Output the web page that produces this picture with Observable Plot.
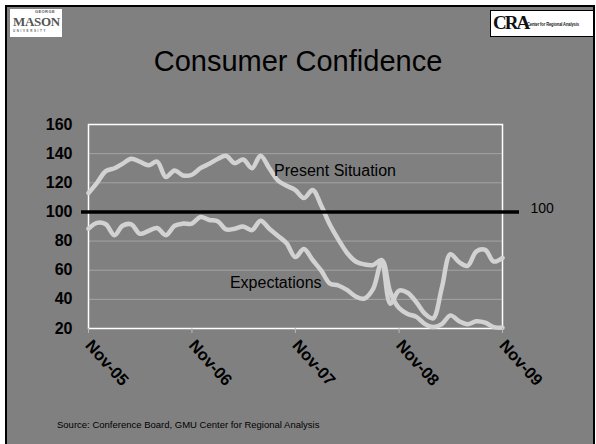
<!DOCTYPE html>
<html>
<head>
<meta charset="utf-8">
<script src="https://cdn.jsdelivr.net/npm/d3@7"></script>
<script src="https://cdn.jsdelivr.net/npm/@observablehq/plot@0.6"></script>
<style>
  html, body { margin: 0; padding: 0; background: #ffffff; }
  #slide { position: relative; width: 596px; height: 444px; overflow: hidden; background: #ffffff;
           font-family: "Liberation Sans", Arial, sans-serif; }
  #bg { position: absolute; left: 5px; top: 5px; width: 586px; height: 450px; background: #808080;
        border-left: 2.5px solid #000; border-top: 2.5px solid #000; border-right: 2.5px solid #000; }
  #title { position: absolute; left: 0; width: 596px; top: 45px; text-align: center; font-size: 29px; color: #000; }
  #source { position: absolute; left: 57px; top: 419px; font-size: 9.5px; color: #000; white-space: nowrap; }
  #gmu { position: absolute; left: 10px; top: 9px; width: 52px; height: 28px; background: #fff; }
  #gmu .g { position: absolute; left: 25px; top: 1px; font-size: 4px; line-height: 4px; font-weight: bold; color: #555; letter-spacing: 0.4px; }
  #gmu .m { position: absolute; left: 3px; top: 6px; font-family: "Liberation Serif", serif; font-size: 13px; line-height: 13px; font-weight: bold; color: #555; letter-spacing: -0.3px; }
  #gmu .u { position: absolute; left: 3px; top: 21px; font-size: 3px; line-height: 3px; font-weight: bold; color: #666; letter-spacing: 1.6px; }
  #cra { position: absolute; left: 490px; top: 10px; width: 104px; height: 27px; background: #fff; border: 1px solid #000; box-sizing: border-box; }
  #cra .c { position: absolute; left: 2px; top: 2px; font-family: "Liberation Serif", serif; font-size: 19px; line-height: 19px; font-weight: bold; color: #111; letter-spacing: -2px; }
  #cra .t { position: absolute; left: 36px; top: 10px; font-size: 6px; line-height: 6px; font-weight: bold; color: #222; white-space: nowrap;
            letter-spacing: -0.2px; transform: scaleX(0.68); transform-origin: left center; }
  #chart { position: absolute; left: 0; top: 0; }
</style>
</head>
<body>
<div id="slide">
  <div id="bg"></div>
  <div id="gmu"><span class="g">GEORGE</span><span class="m">MASON</span><span class="u">UNIVERSITY</span></div>
  <div id="cra"><span class="c">CRA</span><span class="t">Center for Regional Analysis</span></div>
  <div id="title">Consumer Confidence</div>
  <div id="chart"></div>
  <div id="source">Source: Conference Board, GMU Center for Regional Analysis</div>
</div>
<script>
// Monthly values, Nov-2005 .. Nov-2009 (49 months)
const presentSituation = [
  113, 120, 128, 130, 133, 136.5, 134.5, 132, 134.5, 124, 128.5, 125,
  125.5, 130, 133, 136.5, 138.5, 133.5, 136, 130, 138.5, 130, 121.5, 118,
  115, 109.5, 115, 104, 91.5, 81, 72, 66, 64, 63.5, 67, 45,
  34, 30, 28, 23, 21, 23, 29, 25, 23, 25, 24, 21,
  20.5
];
const expectations = [
  88.5, 92.5, 91.5, 84, 90.5, 91.5, 85, 87, 89, 84, 90.5, 92,
  92, 96.5, 94.5, 93.5, 88, 88.5, 90, 87.5, 94, 88.5, 83.5, 78.5,
  69, 74.5, 67, 59.5, 51, 49.5, 46.5, 42, 40.5, 47, 66, 37,
  46, 44.5, 38, 30, 27, 48, 71, 65.5, 63, 73, 74, 66,
  68.5
];
const seriesNames = ["Present Situation", "Expectations"];
const xTickLabels = ["Nov-05", "Nov-06", "Nov-07", "Nov-08", "Nov-09"];
const yTicks = [20, 40, 60, 80, 100, 120, 140, 160];
const gridValues = [40, 60, 80, 120, 140];
const referenceValue = 100;
const referenceLabel = "100";
const sourceText = "Source: Conference Board, GMU Center for Regional Analysis";

const start = new Date(Date.UTC(2005, 10, 1));
const months = presentSituation.map((_, i) => d3.utcMonth.offset(start, i));
const tickDates = xTickLabels.map((_, k) => d3.utcYear.offset(start, k));
const rows = [
  ...presentSituation.map((v, i) => ({series: seriesNames[0], date: months[i], value: v})),
  ...expectations.map((v, i) => ({series: seriesNames[1], date: months[i], value: v}))
];

const chart = Plot.plot({
  width: 596,
  height: 444,
  marginLeft: 88,
  marginRight: 94,
  marginTop: 124,
  marginBottom: 116,
  style: {background: "transparent", fontFamily: "'Liberation Sans', Arial, sans-serif", overflow: "visible"},
  x: {type: "utc", domain: [months[0], months[months.length - 1]]},
  y: {domain: [20, 160]},
  marks: [
    Plot.gridY(gridValues, {stroke: "#a4a4a4", strokeOpacity: 1, strokeWidth: 1}),
    Plot.frame({stroke: "#ffffff", strokeWidth: 1.5}),
    Plot.line(rows, {x: "date", y: "value", z: "series", stroke: "#d2d2d2", strokeWidth: 4.5,
                     curve: "catmull-rom", strokeLinejoin: "round", strokeLinecap: "round"}),
    Plot.ruleY([referenceValue], {stroke: "#000", strokeWidth: 3.5, insetLeft: -7, insetRight: -17}),
    Plot.text([referenceLabel], {x: months[months.length - 1], y: referenceValue, text: d => d,
               textAnchor: "start", lineAnchor: "bottom", dx: 28, dy: 1, fontSize: 14, fill: "#000"}),
    Plot.text([seriesNames[0]], {x: months[22], y: 128, text: d => d, textAnchor: "start", dx: -4,
               fontSize: 16, fill: "#000"}),
    Plot.text([seriesNames[1]], {x: months[16], y: 51, text: d => d, textAnchor: "start", dx: 4,
               fontSize: 16, fill: "#000"}),
    Plot.axisY(yTicks, {tickSize: 0, tickPadding: 16, fontSize: 16, fontWeight: "bold", fill: "#000", label: null}),
    Plot.axisX(tickDates, {tickSize: 5, tickPadding: 9, tickRotate: 48, stroke: "#b8b8b8", fill: "#000",
               fontSize: 16.5, fontWeight: "bold", tickFormat: d => xTickLabels[tickDates.findIndex(t => +t === +d)], label: null})
  ]
});
document.getElementById("chart").appendChild(chart);
document.getElementById("source").textContent = sourceText;
</script>
</body>
</html>
